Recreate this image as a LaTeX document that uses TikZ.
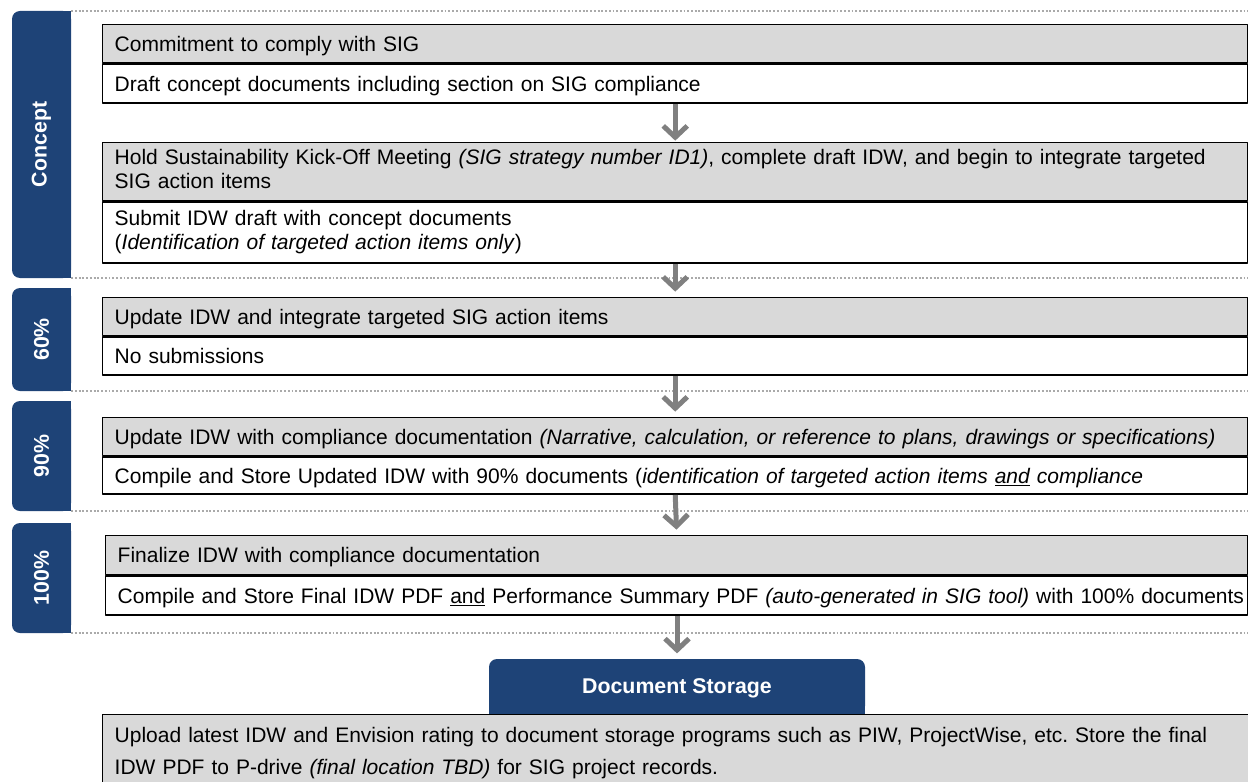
\documentclass[tikz,border=0pt]{standalone}
\usepackage{fontspec}
\setmainfont{Liberation Sans}
\usetikzlibrary{arrows.meta}
\definecolor{tabblue}{RGB}{30,67,119}
\definecolor{headgray}{RGB}{217,217,217}
\definecolor{arrowgray}{RGB}{128,128,128}
\definecolor{dotgray}{RGB}{170,170,170}
\pgfdeclarelayer{background}
\pgfsetlayers{background,main}
\frenchspacing
\begin{document}
\begin{tikzpicture}[line cap=round,line join=round,x=0.75pt,y=-0.75pt,
    every node/.style={font=\fontsize{15.75}{18}\selectfont},
    stepbox/.style={draw=black,line width=1.1pt,anchor=north west,text width=840.75pt,inner xsep=9pt,inner ysep=0pt,align=left},
    oneline/.style={text height=14pt,text depth=3pt},
    twoline/.style={execute at begin node=\strut,execute at end node=\strut},
    headbox/.style={stepbox,fill=headgray},
    bodybox/.style={stepbox,fill=white},
    phasetab/.style={fill=tabblue,rounded corners=6pt,minimum width=44.25pt,text=white,font=\fontsize{16}{18}\selectfont\bfseries},
    storagetab/.style={phasetab,minimum width=282pt,minimum height=41.25pt,text depth=0pt},
    lowerbox/.style={draw=black,fill=headgray,line width=1.1pt,anchor=north west,text width=850pt,inner xsep=9pt,inner ysep=0pt,minimum height=57pt,align=left,font=\fontsize{15.75}{24}\selectfont},
    sepline/.style={dotgray,line width=1.5pt,line cap=butt,dash pattern=on 1.4pt off 1.4pt},
    flow/.style={arrowgray,line width=3.75pt,line cap=butt,-{Straight Barb[length=8.5pt,width=18pt]},shorten >=4pt}]
      \clip (0,0) rectangle (1248,781);
      \node[phasetab,minimum height=200.25pt] (concept) at (41.5,144.5) {\rotatebox{90}{Concept}};
      \node[phasetab,minimum height=77.25pt] (p60) at (41.5,339.5) {\rotatebox{90}{60\%}};
      \node[phasetab,minimum height=82.5pt] (p90) at (41.5,456) {\rotatebox{90}{90\%}};
      \node[phasetab,minimum height=82.5pt] (p100) at (41.5,578) {\rotatebox{90}{100\%}};
      \begin{pgfonlayer}{background}
        \fill[tabblue] (concept.north) rectangle (concept.south east);
        \fill[tabblue] (p60.north) rectangle (p60.south east);
        \fill[tabblue] (p90.north) rectangle (p90.south east);
        \fill[tabblue] (p100.north) rectangle (p100.south east);
      \end{pgfonlayer}
      \draw[sepline] (concept.north east) -- +(1200,0);
      \draw[sepline] (concept.south east) -- +(1200,0);
      \draw[sepline] (p60.south east) -- +(1200,0);
      \draw[sepline] (p90.south east) -- +(1200,0);
      \draw[sepline] (p100.south east) -- +(1200,0);
      \node[headbox,oneline,minimum height=28.5pt] (c1h) at (102,24) {Commitment to comply with SIG};
      \node[bodybox,oneline,minimum height=29.25pt] (c1b) at (c1h.south west) {Draft concept documents including section on SIG compliance};
      \node[headbox,twoline,minimum height=43.5pt] (c2h) at (102,142) {Hold Sustainability Kick-Off Meeting \textit{(SIG strategy number ID1)}, complete draft IDW, and begin to integrate targeted\\SIG action items};
      \node[bodybox,twoline,minimum height=45.75pt] (c2b) at (c2h.south west) {Submit IDW draft with concept documents\\(\textit{Identification of targeted action items only})};
      \node[headbox,oneline,minimum height=28.5pt] (u60h) at (102,297) {Update IDW and integrate targeted SIG action items};
      \node[bodybox,oneline,minimum height=28.5pt] (u60b) at (u60h.south west) {No submissions};
      \node[headbox,oneline,minimum height=28.5pt] (u90h) at (102,417) {Update IDW with compliance documentation \textit{(Narrative, calculation, or reference to plans, drawings or specifications)}};
      \node[bodybox,oneline,minimum height=27.75pt] (u90b) at (u90h.south west) {Compile and Store Updated IDW with 90\% documents (\textit{identification of targeted action items \underline{and} compliance}};
      \node[headbox,oneline,minimum height=29.25pt,text width=838.5pt] (u100h) at (105,535) {Finalize IDW with compliance documentation};
      \node[bodybox,oneline,minimum height=29.25pt,text width=838.5pt] (u100b) at (u100h.south west) {\mbox{Compile and Store Final IDW PDF \underline{and} Performance Summary PDF \textit{(auto-generated in SIG tool)} with 100\% documents}};
      \node[storagetab] (storage) at (677,686.5) {Document Storage};
      \begin{pgfonlayer}{background}
        \fill[tabblue] (storage.west) rectangle (storage.south east);
      \end{pgfonlayer}
      \node[lowerbox] (upload) at (102,714) {Upload latest IDW and Envision rating to document storage programs such as PIW, ProjectWise, etc. Store the final\\IDW PDF to P-drive \textit{(final location TBD)} for SIG project records.};
      \draw[flow,shorten >=1pt] (c1b.south) -- (c2h.north);
      \draw[flow] (c2b.south) -- (u60h.north);
      \draw[flow] (u60b.south) -- (u90h.north);
      \draw[flow] (u90b.south) -- (u100h.north);
      \draw[flow] (u100b.south -| storage.north) -- (storage.north);
\end{tikzpicture}
\end{document}
